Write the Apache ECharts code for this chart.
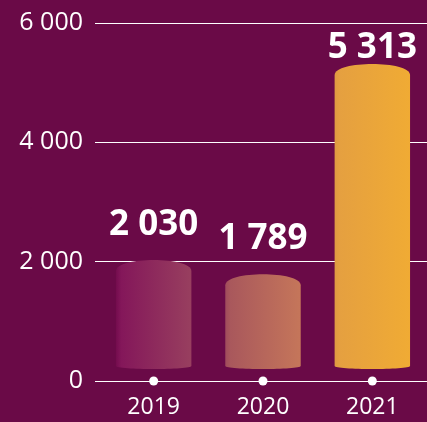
<!DOCTYPE html>
<html>
<head>
<meta charset="utf-8">
<script src="https://cdn.jsdelivr.net/npm/echarts@6/dist/echarts.min.js"></script>
<style>
  html, body { margin: 0; padding: 0; background: #6a0a47; }
  #chart { width: 427px; height: 422px; }
</style>
</head>
<body>
<div id="chart"></div>
<script>
// Yearly totals
const years = ['2019', '2020', '2021'];
const totals = [2030, 1789, 5313];
const yTicks = [0, 2000, 4000, 6000];

// Left-to-right shading of each cylinder
const barShades = [
  ['#740c4e', '#84175a', '#983f5f'],
  ['#a04c5c', '#a9585c', '#c5765a'],
  ['#df9942', '#e5a040', '#f0ab34']
];

const FONT = '"Open Sans", "Noto Sans", Lato, sans-serif';

// Thousands separated by a space: 6000 -> "6 000"
function spaced(v) {
  return String(v).replace(/\B(?=(\d{3})+(?!\d))/g, ' ');
}

const chart = echarts.init(document.getElementById('chart'), null, { renderer: 'canvas' });

function renderCylinder(params, api) {
  const idx = api.value(0);
  const val = api.value(1);
  const topPt = api.coord([idx, val]);
  const basePt = api.coord([idx, 0]);
  const bandW = api.size([1, 0])[0];
  const w = bandW * 0.69;
  const cx = topPt[0];
  const x0 = cx - w / 2;
  const x1 = cx + w / 2;
  const yT = topPt[1];
  const capH = 11;           // height of the domed lid
  const yB = basePt[1] - 12; // lowest point of the rounded floor
  const floorH = 3;

  const path =
    'M' + x0 + ' ' + (yT + capH) +
    ' C' + x0 + ' ' + (yT - capH / 3) + ' ' + x1 + ' ' + (yT - capH / 3) + ' ' + x1 + ' ' + (yT + capH) +
    ' L' + x1 + ' ' + (yB - floorH) +
    ' C' + x1 + ' ' + (yB + 1) + ' ' + x0 + ' ' + (yB + 1) + ' ' + x0 + ' ' + (yB - floorH) +
    ' Z';

  const shade = barShades[params.dataIndex];
  const gridTop = params.coordSys.y;
  const labelY = Math.max(yT - 35, gridTop + 25);

  return {
    type: 'group',
    children: [
      {
        type: 'path',
        shape: { pathData: path },
        style: {
          fill: new echarts.graphic.LinearGradient(0, 0, 1, 0, [
            { offset: 0, color: shade[0] },
            { offset: 0.07, color: shade[1] },
            { offset: 1, color: shade[2] }
          ])
        }
      },
      {
        type: 'text',
        x: cx,
        y: labelY,
        style: {
          text: spaced(val),
          fill: '#ffffff',
          font: 'bold 35px ' + FONT,
          align: 'center',
          verticalAlign: 'middle'
        }
      }
    ]
  };
}

chart.setOption({
  backgroundColor: '#6a0a47',
  animation: false,
  grid: { left: 99, right: 0, top: 23, bottom: 41, containLabel: false },
  xAxis: {
    type: 'category',
    data: years,
    axisLine: { show: true, lineStyle: { color: '#ffffff', width: 1 } },
    axisTick: { show: false },
    axisLabel: {
      color: '#ffffff',
      fontFamily: FONT,
      fontWeight: 'normal',
      fontSize: 23,
      margin: 15
    }
  },
  yAxis: {
    type: 'value',
    min: yTicks[0],
    max: yTicks[yTicks.length - 1],
    interval: yTicks[1] - yTicks[0],
    axisLine: { show: false },
    axisTick: { show: true, length: 4, lineStyle: { color: '#ffffff', width: 1 } },
    splitLine: { show: true, lineStyle: { color: '#ffffff', width: 1 } },
    axisLabel: {
      color: '#ffffff',
      fontFamily: FONT,
      fontWeight: 'normal',
      fontSize: 25,
      margin: 16,
      formatter: spaced
    }
  },
  series: [
    {
      type: 'custom',
      renderItem: renderCylinder,
      data: years.map((y, i) => [i, totals[i]]),
      encode: { x: 0, y: 1 },
      clip: false,
      z: 2
    },
    {
      type: 'scatter',
      data: years.map((y, i) => [i, 0]),
      symbol: 'circle',
      symbolSize: 9,
      itemStyle: { color: '#ffffff', opacity: 1 },
      clip: false,
      z: 3
    }
  ]
});
</script>
</body>
</html>
